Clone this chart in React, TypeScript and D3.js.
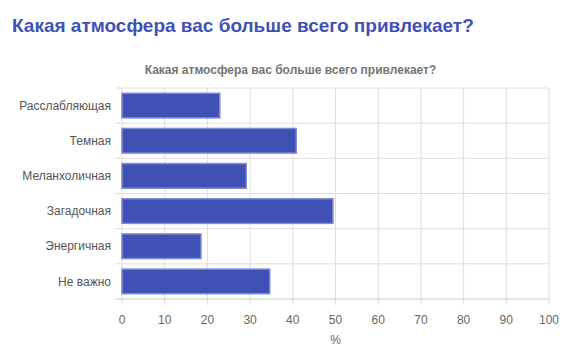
import * as d3 from "d3";

const categories = ["Расслабляющая", "Темная", "Меланхоличная", "Загадочная", "Энергичная", "Не важно"];
const values = [22.9, 40.8, 29.1, 49.4, 18.5, 34.6];
const xTicks = [0, 10, 20, 30, 40, 50, 60, 70, 80, 90, 100];

const title = "Какая атмосфера вас больше всего привлекает?";
const axisTitle = "%";

const App = () => {
  const width = 581;
  const height = 363;
  const margin = { top: 88, right: 32, bottom: 64, left: 122 };
  const innerW = width - margin.left - margin.right;
  const innerH = height - margin.top - margin.bottom;

  const x = d3.scaleLinear().domain([0, 100]).range([0, innerW]);
  const y = d3.scaleBand().domain(categories).range([0, innerH]).paddingInner(0.3).paddingOuter(0.15);
  const step = y.step();
  const font = "'Liberation Sans', Arial, sans-serif";

  return (
    <svg width={width} height={height} style={{ position: "absolute", left: 0, top: 0, background: "#fff" }}>
      <text x={12} y={32} fontFamily={font} fontWeight="bold" fontSize={19} fill="#3f51b5">
        {title}
      </text>
      {/* chart subtitle is centred on the whole chart, not the plot */}
      <text x={width / 2} y={74} textAnchor="middle" fontFamily={font} fontWeight="bold" fontSize={12} fill="#757575">
        {title}
      </text>
      <g transform={`translate(${margin.left},${margin.top})`}>
        {/* vertical grid */}
        {xTicks.map((t) => (
          <g key={t}>
            <line x1={x(t)} x2={x(t)} y1={0} y2={innerH + 6} stroke="#dedede" strokeWidth={1} />
            <text x={x(t)} y={innerH + 25} textAnchor="middle" fontFamily={font} fontSize={12} fill="#666">
              {t}
            </text>
          </g>
        ))}
        {/* category boundaries */}
        {categories.map((c, i) => (
          <line key={c} x1={-7} x2={innerW} y1={i * step} y2={i * step} stroke="#dedede" strokeWidth={1} />
        ))}
        <line x1={-7} x2={innerW} y1={innerH} y2={innerH} stroke="#ccc" strokeWidth={1} />
        {categories.map((c, i) => (
          <g key={c}>
            <rect
              x={x(0)}
              y={y(c)}
              width={x(values[i]) - x(0)}
              height={y.bandwidth()}
              fill="#3f51b5"
              stroke="#7f8bd0"
              strokeWidth={1.5}
            />
            <text
              x={-11}
              y={(y(c) ?? 0) + y.bandwidth() / 2}
              dy="0.35em"
              textAnchor="end"
              fontFamily={font}
              fontSize={12}
              fill="#555"
            >
              {c}
            </text>
          </g>
        ))}
        <text x={innerW / 2} y={innerH + 45} textAnchor="middle" fontFamily={font} fontSize={12} fill="#666">
          {axisTitle}
        </text>
      </g>
    </svg>
  );
};

export default App;
